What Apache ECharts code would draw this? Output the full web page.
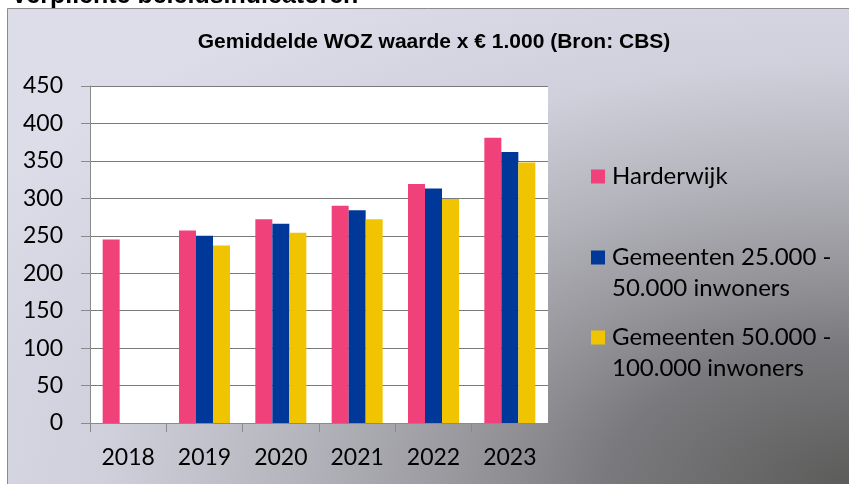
<!DOCTYPE html>
<html>
<head>
<meta charset="utf-8">
<script src="https://cdn.jsdelivr.net/npm/echarts@6/dist/echarts.min.js"></script>
<style>
  html, body { margin: 0; padding: 0; background: #ffffff; }
  #chart { width: 849px; height: 484px; }
</style>
</head>
<body>
<div id="chart"></div>
<script>
// Average WOZ value (x EUR 1,000), source: CBS
const years = ['2018', '2019', '2020', '2021', '2022', '2023'];
const seriesNames = [
  'Harderwijk',
  'Gemeenten 25.000 - 50.000 inwoners',
  'Gemeenten 50.000 - 100.000 inwoners'
];
// Legend labels, wrapped; a leading blank line keeps the marker level with the first line
const legendLabels = [
  'Harderwijk',
  '\nGemeenten 25.000 -\n50.000 inwoners',
  '\nGemeenten 50.000 -\n100.000 inwoners'
];
const harderwijk = [245, 257, 272, 290, 319, 381];
const gemeenten25to50 = [null, 250, 266, 284, 313, 362];
const gemeenten50to100 = [null, 237, 254, 272, 299, 348];
const seriesColors = ['#f0417a', '#003899', '#f0c400'];
const yMin = 0, yMax = 450, yStep = 50;

const chart = echarts.init(document.getElementById('chart'), null, { renderer: 'canvas' });

const labelFont = 'Lato, "Noto Sans", sans-serif';
const seriesData = [harderwijk, gemeenten25to50, gemeenten50to100];

function legendFor(i, top) {
  return {
    data: [seriesNames[i]],
    orient: 'vertical',
    left: 591,
    top: top,
    padding: 0,
    icon: 'rect',
    itemWidth: 14,
    itemHeight: 14,
    selectedMode: false,
    formatter: name => legendLabels[seriesNames.indexOf(name)],
    textStyle: {
      fontFamily: labelFont,
      fontSize: 24,
      color: '#000000',
      lineHeight: 31,
      padding: [0, 0, 0, 2]
    }
  };
}

const option = {
  backgroundColor: '#ffffff',
  animation: false,
  title: {
    text: 'Gemiddelde WOZ waarde x € 1.000 (Bron: CBS)',
    left: 434,
    top: 31,
    padding: 0,
    textAlign: 'center',
    textStyle: {
      fontFamily: '"Liberation Sans", Arial, sans-serif',
      fontWeight: 'bold',
      fontSize: 21,
      lineHeight: 22,
      color: '#000000'
    }
  },
  graphic: [
    {
      type: 'text',
      x: 11,
      y: -4,
      z: -5,
      silent: true,
      style: {
        text: 'Verplichte beleidsindicatoren',
        font: 'bold 25px "Liberation Sans", Arial, sans-serif',
        fill: '#000000',
        verticalAlign: 'middle'
      }
    },
    {
      type: 'rect',
      x: 7,
      y: 8,
      scaleY: 482 / 853,
      z: -10,
      silent: true,
      shape: { x: 0, y: 0, width: 853, height: 853 },
      style: {
        fill: new echarts.graphic.RadialGradient(1, 1, 1.2, [
          { offset: 0, color: '#5a5a58' },
          { offset: 0.25, color: '#7a7a7e' },
          { offset: 0.33, color: '#8c8c90' },
          { offset: 0.55, color: '#b4b4bc' },
          { offset: 0.74, color: '#d0d0dc' },
          { offset: 1, color: '#dcdde9' }
        ])
      }
    },
    {
      type: 'rect',
      z: -9,
      silent: true,
      shape: { x: 7.5, y: 8.5, width: 900, height: 600 },
      style: { fill: null, stroke: '#8c8c8c', lineWidth: 1 }
    }
  ],
  legend: [
    legendFor(0, 161),
    legendFor(1, 211),
    legendFor(2, 291)
  ],
  grid: {
    left: 90,
    right: 301,
    top: 86,
    bottom: 61,
    show: true,
    backgroundColor: '#ffffff',
    borderWidth: 0
  },
  xAxis: {
    type: 'category',
    data: years,
    axisLine: { lineStyle: { color: '#8a8a8a', width: 1 } },
    axisTick: { show: true, length: 9, lineStyle: { color: '#8a8a8a' } },
    axisLabel: {
      fontFamily: labelFont,
      fontSize: 23,
      color: '#000000',
      margin: 21,
      lineHeight: 28
    }
  },
  yAxis: {
    type: 'value',
    min: yMin,
    max: yMax,
    interval: yStep,
    axisLine: { show: true, lineStyle: { color: '#8a8a8a', width: 1 } },
    axisTick: { show: true, length: 9, lineStyle: { color: '#8a8a8a' } },
    splitLine: { show: true, lineStyle: { color: '#7a7a7a', width: 1 } },
    axisLabel: {
      fontFamily: labelFont,
      fontSize: 23,
      color: '#000000',
      margin: 27
    }
  },
  series: seriesNames.map((name, i) => ({
    name: name,
    type: 'bar',
    data: seriesData[i],
    barWidth: 17,
    barGap: '0%',
    itemStyle: { color: seriesColors[i] }
  }))
};

chart.setOption(option);
</script>
</body>
</html>
